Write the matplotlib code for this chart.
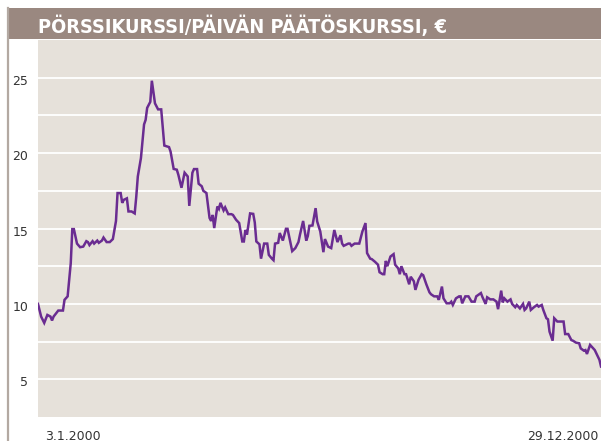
import matplotlib
matplotlib.use("Agg")
import matplotlib.pyplot as plt
import matplotlib.transforms as mtransforms
from matplotlib.patches import Rectangle
from matplotlib.lines import Line2D
import numpy as np
import pandas as pd

# Closing price per trading day, 2000 (days counted from 3 Jan 2000)
day_offsets = [
    0, 2, 4, 6, 8, 9, 10, 13, 16, 17, 19, 21, 22, 23, 25, 27, 29, 31, 32, 33,
    35, 36, 38, 39, 41, 42, 44, 46, 48, 49, 50, 51, 53, 54, 55, 57, 58, 60, 62, 63,
    64, 66, 68, 69, 70, 72, 73, 75, 77, 79, 81, 84, 85, 87, 89, 90, 92, 93, 94, 96,
    97, 99, 100, 102, 103, 105, 106, 108, 110, 111, 112, 113, 115, 116, 117, 119, 120, 122, 124, 125,
    127, 129, 131, 132, 133, 134, 136, 138, 139, 140, 142, 143, 145, 147, 148, 150, 151, 152, 154, 155,
    157, 159, 160, 163, 165, 167, 168, 170, 172, 173, 174, 176, 178, 179, 181, 183, 184, 186, 188, 190,
    192, 194, 195, 196, 199, 200, 201, 203, 206, 208, 210, 211, 213, 214, 216, 218, 219, 221, 222, 223,
    224, 226, 228, 229, 231, 232, 233, 235, 236, 238, 239, 241, 242, 244, 246, 247, 249, 251, 252, 254,
    256, 257, 259, 260, 262, 264, 265, 266, 268, 270, 271, 272, 274, 276, 278, 280, 281, 283, 284, 285,
    287, 288, 290, 292, 294, 295, 297, 298, 299, 301, 303, 304, 306, 307, 309, 311, 312, 313, 315, 316,
    318, 320, 321, 323, 324, 326, 327, 328, 330, 331, 333, 335, 337, 338, 340, 342, 343, 345, 347, 348,
    350, 351, 352, 354, 355, 357, 358, 360, 361,
]
close_eur = [
    10.0, 9.16, 8.74, 9.27, 9.16, 8.9, 9.16, 9.56, 9.56, 10.27, 10.5, 12.7, 14.96, 14.96, 14.0, 13.76, 13.8, 14.16, 14.1, 13.9,
    14.16, 14.0, 14.2, 14.05, 14.2, 14.4, 14.1, 14.1, 14.3, 14.9, 15.5, 17.35, 17.35, 16.7, 16.9, 17.0, 16.13, 16.13, 16.0, 17.1,
    18.45, 19.67, 21.9, 22.2, 23.0, 23.4, 24.8, 23.3, 22.9, 22.9, 20.5, 20.4, 20.1, 18.95, 18.9, 18.56, 17.7, 18.2, 18.7, 18.45,
    16.5, 18.7, 18.94, 18.94, 17.97, 17.8, 17.5, 17.35, 15.7, 15.5, 15.9, 15.03, 16.46, 16.3, 16.7, 16.2, 16.4, 15.95, 15.95, 15.9,
    15.58, 15.36, 14.14, 14.14, 14.9, 14.6, 16.0, 15.97, 15.4, 14.14, 13.95, 13.0, 14.0, 14.0, 13.25, 13.0, 12.9, 14.0, 14.05, 14.7,
    14.2, 14.98, 14.98, 13.5, 13.7, 14.1, 14.6, 15.5, 14.2, 14.5, 15.18, 15.2, 16.35, 15.47, 14.8, 13.43, 14.3, 13.8, 13.7, 14.9,
    14.1, 14.55, 14.0, 13.85, 14.0, 14.0, 13.85, 14.0, 14.0, 14.8, 15.36, 13.37, 13.0, 12.97, 12.8, 12.6, 12.1, 11.97, 11.97, 12.85,
    12.5, 13.14, 13.3, 12.6, 12.35, 11.97, 12.5, 11.97, 11.97, 11.3, 11.8, 11.5, 10.93, 11.6, 11.97, 11.9, 11.3, 10.77, 10.64, 10.5,
    10.5, 10.27, 11.15, 10.37, 10.04, 10.04, 10.15, 9.93, 10.37, 10.5, 10.5, 10.04, 10.5, 10.5, 10.15, 10.15, 10.5, 10.65, 10.72, 10.45,
    10.0, 10.44, 10.3, 10.3, 10.15, 9.65, 10.88, 10.1, 10.37, 10.15, 10.3, 10.0, 9.78, 9.93, 9.7, 10.0, 9.6, 9.7, 10.15, 9.6,
    9.78, 9.93, 9.82, 9.93, 9.6, 9.05, 8.98, 8.16, 7.56, 9.05, 8.83, 8.83, 8.83, 8.0, 8.0, 7.6, 7.56, 7.43, 7.39, 7.05,
    6.9, 6.94, 6.68, 7.28, 7.17, 6.94, 6.72, 6.29, 5.85,
]
y_ticks = [5, 10, 15, 20, 25]
y_gridlines = [5, 7.5, 10, 12.5, 15, 17.5, 20, 22.5, 25]
x_tick_labels = ["3.1.2000", "29.12.2000"]
title = "PÖRSSIKURSSI/PÄIVÄN PÄÄTÖSKURSSI, €"

start = pd.Timestamp("2000-01-03")
end = pd.Timestamp("2000-12-29")
dates = start + pd.to_timedelta(day_offsets, unit="D")

BAR = "#9a8880"
PANEL = "#e6e1da"
LINE = "#6a2c91"
TEXT = "#333333"

W, H = 601, 441
fig = plt.figure(figsize=(W / 100, H / 100), dpi=100, facecolor="white")

# plot panel
ax = fig.add_axes([38 / W, (H - 417) / H, (W - 38) / W, (417 - 40) / H])
ax.set_facecolor(PANEL)
for s in ax.spines.values():
    s.set_visible(False)

ax.set_ylim(2.5, 27.5)
ax.set_xlim(start, end)
for g in y_gridlines:
    ax.axhline(g, color="white", lw=1.3, zorder=1)

ax.plot(dates, close_eur, color=LINE, lw=1.8, zorder=3, solid_joinstyle="miter")

ax.set_yticks(y_ticks)
ax.set_yticklabels([str(t) for t in y_ticks])
ax.tick_params(axis="y", length=0, pad=7, labelsize=9, labelcolor=TEXT)
for lab in ax.get_yticklabels():
    lab.set_transform(lab.get_transform() + mtransforms.ScaledTranslation(0, -2 / 100, fig.dpi_scale_trans))

ax.set_xticks([start, end])
ax.set_xticklabels(x_tick_labels)
ax.tick_params(axis="x", length=0, pad=9, labelsize=9, labelcolor=TEXT)
xl = ax.get_xticklabels()
xl[0].set_ha("left")
xl[0].set_transform(xl[0].get_transform() + mtransforms.ScaledTranslation(7 / 100, 0, fig.dpi_scale_trans))
xl[1].set_ha("right")
xl[1].set_transform(xl[1].get_transform() + mtransforms.ScaledTranslation(-3 / 100, 0, fig.dpi_scale_trans))

# title bar and left rule
fig.patches.append(Rectangle((8 / W, (H - 39) / H), 1 - 8 / W, 31 / H,
                             transform=fig.transFigure, facecolor=BAR, edgecolor="none", zorder=0))
fig.lines.append(Line2D([7.5 / W, 7.5 / W], [0, (H - 8) / H], transform=fig.transFigure,
                        color="#b3a9a2", lw=1.6))
fig.text(38 / W, (H - 33) / H, title, color="white", fontsize=14.3, fontweight="bold",
         fontstretch="condensed", family="DejaVu Sans", ha="left", va="baseline")

fig.savefig("out.png", dpi=100, facecolor="white")
